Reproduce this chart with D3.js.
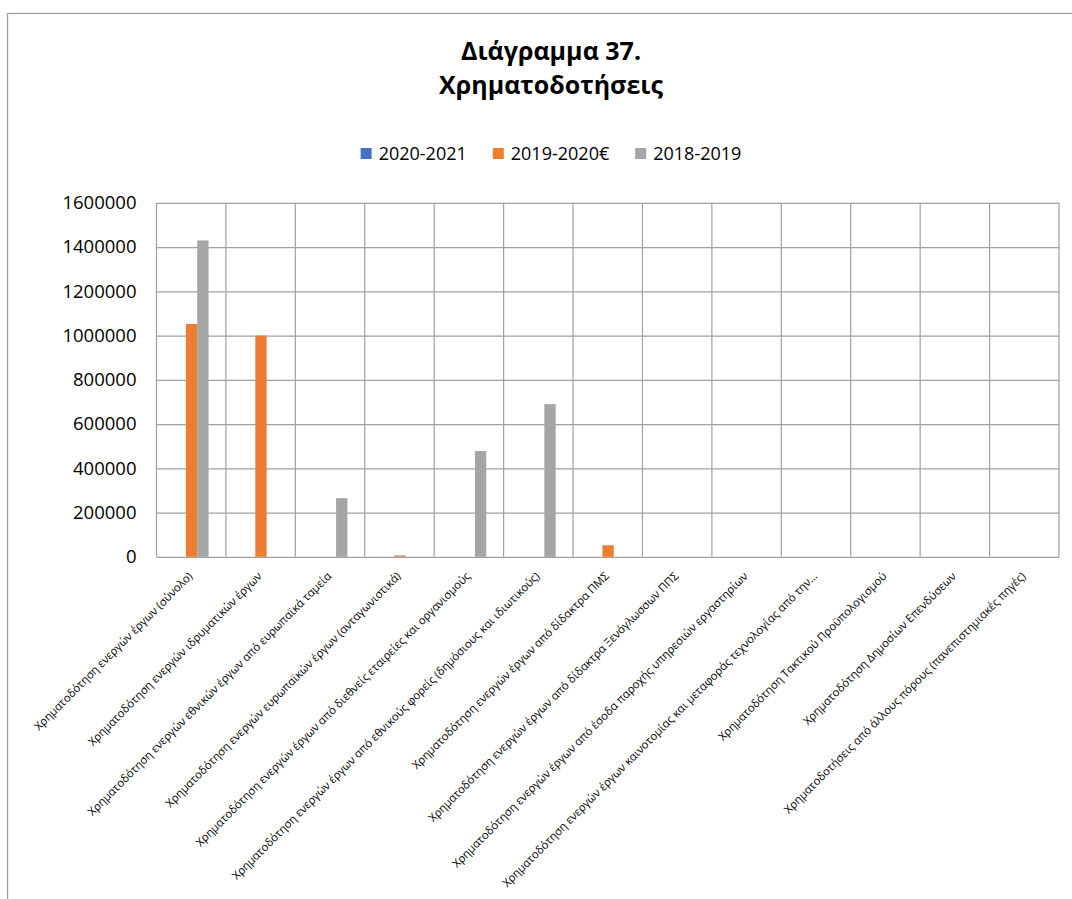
<!DOCTYPE html>
<html lang="el">
<head>
<meta charset="UTF-8">
<title>Διάγραμμα 37</title>
<script src="https://cdn.jsdelivr.net/npm/d3@7/dist/d3.min.js"></script>
<style>
  body { margin: 0; background: #fff; }
  svg { font-family: "Open Sans", "Noto Sans", sans-serif; }
</style>
</head>
<body>
<svg width="1072" height="899" id="main"></svg>
<script>
    // data
    let categories = [
        "Χρηματοδότηση ενεργών έργων (σύνολο)",
        "Χρηματοδότηση ενεργών ιδρυματικών έργων",
        "Χρηματοδότηση ενεργών εθνικών έργων από ευρωπαϊκά ταμεία",
        "Χρηματοδότηση ενεργών ευρωπαϊκών έργων (ανταγωνιστικά)",
        "Χρηματοδότηση ενεργών έργων από διεθνείς εταιρείες και οργανισμούς",
        "Χρηματοδότηση ενεργών έργων από εθνικούς φορείς (δημόσιους και ιδιωτικούς)",
        "Χρηματοδότηση ενεργών έργων από δίδακτρα ΠΜΣ",
        "Χρηματοδότηση ενεργών έργων από δίδακτρα Ξενόγλωσσων ΠΠΣ",
        "Χρηματοδότηση ενεργών έργων από έσοδα παροχής υπηρεσιών εργαστηρίων",
        "Χρηματοδότηση ενεργών έργων καινοτομίας και μεταφοράς τεχνολογίας από την…",
        "Χρηματοδότηση Τακτικού Προϋπολογισμού",
        "Χρηματοδότηση Δημοσίων Επενδύσεων",
        "Χρηματοδοτήσεις από άλλους πόρους (πανεπιστημιακές πηγές)"
    ];
    let seriesNames = ["2020-2021", "2019-2020€", "2018-2019"];
    let seriesColors = ["#4472C4", "#ED7D31", "#A5A5A5"];
    let values2020_2021 = [0, 0, 0, 0, 0, 0, 0, 0, 0, 0, 0, 0, 0];
    let values2019_2020 = [1052000, 1000000, 0, 6000, 0, 0, 52000, 0, 0, 0, 0, 0, 0];
    let values2018_2019 = [1430000, 0, 265000, 0, 478000, 690000, 0, 0, 0, 0, 0, 0, 0];
    let yTicks = [0, 200000, 400000, 600000, 800000, 1000000, 1200000, 1400000, 1600000];
    let titleLines = ["Διάγραμμα 37.", "Χρηματοδοτήσεις"];

    draw();

    function draw() {
        let allValues = [values2020_2021, values2019_2020, values2018_2019];
        let rows = [];
        categories.forEach((c, i) => {
            seriesNames.forEach((s, j) => rows.push({cat: c, series: s, value: allValues[j][i], color: seriesColors[j]}));
        });

        let plot = {left: 156.5, right: 1059, top: 202.8, bottom: 556.8};
        let centerX = 551;
        let svg = d3.select('#main');

        // chart frame (runs off the right and bottom edge)
        svg.append("rect")
            .attr("x", 7.5).attr("y", 13.5)
            .attr("width", 1200).attr("height", 1000)
            .attr("fill", "none").attr("stroke", "#a0a0a0").attr("stroke-width", 1.3);

        let x = d3.scaleBand().domain(categories).range([plot.left, plot.right]);
        let bw = x.bandwidth();
        let xs = d3.scaleBand().domain(seriesNames).range([bw * 0.26, bw * 0.75]);
        let y = d3.scaleLinear().domain([0, 1600000]).range([plot.bottom, plot.top]);

        // horizontal grid + y labels
        let yAxis = svg.append("g")
            .attr("transform", `translate(${plot.left},0)`)
            .call(d3.axisLeft(y).tickValues(yTicks).tickFormat(d3.format("d"))
                .tickSize(-(plot.right - plot.left)).tickPadding(20))
            .call(g => g.select(".domain").remove());
        yAxis.selectAll(".tick line").attr("stroke", "#a0a0a0").attr("stroke-width", 1.2);
        yAxis.selectAll(".tick text")
            .attr("font-size", "18.5px").attr("fill", "#000")
            .attr("font-family", "Open Sans");

        // vertical grid at band edges
        let edges = categories.map(c => x(c)).concat([plot.right]);
        svg.append("g").selectAll("line").data(edges).join("line")
            .attr("x1", d => d).attr("x2", d => d)
            .attr("y1", plot.top).attr("y2", plot.bottom)
            .attr("stroke", "#a0a0a0").attr("stroke-width", 1.2);

        // bars
        svg.append("g").selectAll("rect").data(rows.filter(d => d.value > 0)).join("rect")
            .attr("x", d => x(d.cat) + xs(d.series))
            .attr("width", xs.bandwidth())
            .attr("y", d => y(d.value))
            .attr("height", d => y(0) - y(d.value))
            .attr("fill", d => d.color);

        // category labels, rotated
        let xAxis = svg.append("g")
            .attr("transform", `translate(0,${plot.bottom})`)
            .call(d3.axisBottom(x).tickSize(0).tickPadding(0))
            .call(g => g.select(".domain").remove());
        xAxis.selectAll(".tick text")
            .attr("font-size", "11.3px").attr("fill", "#000")
            .attr("font-family", "Open Sans")
            .attr("text-anchor", "end")
            .attr("y", 0).attr("dy", 0)
            .attr("transform", "translate(2,20) rotate(-45)");

        // title
        svg.append("g").selectAll("text").data(titleLines).join("text")
            .attr("x", centerX)
            .attr("y", (d, i) => 60 + i * 34)
            .attr("text-anchor", "middle")
            .attr("font-size", "25px").attr("font-weight", "bold")
            .attr("fill", "#000")
            .text(d => d);

        // legend
        let legend = svg.append("g");
        let items = legend.selectAll("g").data(seriesNames).join("g");
        items.append("rect")
            .attr("width", 11).attr("height", 11)
            .attr("y", 148)
            .attr("fill", (d, i) => seriesColors[i]);
        items.append("text")
            .attr("x", 18).attr("y", 160)
            .attr("font-size", "18px").attr("fill", "#000")
            .text(d => d);
        let pos = 0, offsets = [];
        items.each(function () {
            offsets.push(pos);
            pos += 18 + d3.select(this).select("text").node().getComputedTextLength() + 26;
        });
        let total = pos - 26;
        let startX = centerX - total / 2;
        items.attr("transform", (d, i) => `translate(${startX + offsets[i]},0)`);
    }
</script>
</body>
</html>
